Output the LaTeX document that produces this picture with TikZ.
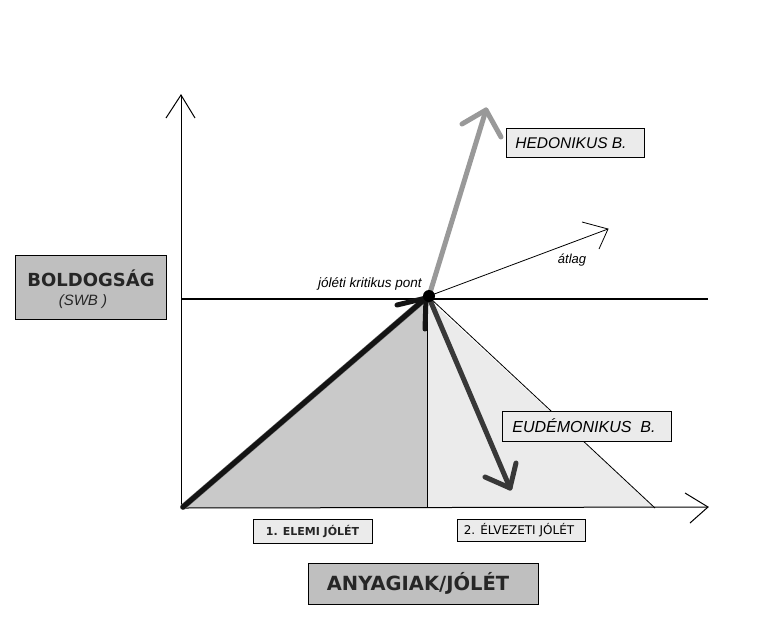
\documentclass[tikz,border=0pt]{standalone}
\usepackage{fontspec}
\setmainfont{DejaVu Sans}
\newfontfamily\ital{Liberation Sans}
\begin{document}
\begin{tikzpicture}[x=1pt,y=-1pt,
  thin axis/.style={line width=1pt,black},
  thickarr/.style={line width=5pt,line cap=round,line join=round},
  lbox/.style={draw=black,line width=1pt,fill=black!8,inner sep=0pt,anchor=north west},
  gbox/.style={draw=black,line width=1pt,fill=black!25,inner sep=0pt,anchor=north west}]
\useasboundingbox (0,0) rectangle (759,633);
% regions
\fill[black!21] (181,508) -- (427,298) -- (427,508) -- cycle;
\fill[black!8] (427,298) -- (427,508) -- (655,508) -- cycle;
\draw[line width=0.8pt] (430,298) -- (655,508);
\draw[line width=0.8pt] (427,298) -- (427,508);
% axes
\coordinate (O) at (181,508);
\coordinate (ytip) at (181,95);
\coordinate (xtip) at (708,507);
\draw[thin axis] (O) -- (ytip);
\draw[thin axis] (166,118) -- (ytip) -- (195,118);
\draw[thin axis] (O) -- (xtip);
\draw[thin axis] (685,493) -- (xtip) -- (690,523);
\draw[line width=1.6pt] (181,299) -- (708,299);
% critical point
\coordinate (P) at (429,296);
% average arrow
\coordinate (atip) at (608,229);
\draw[line width=0.8pt] (P) -- (atip);
\draw[line width=0.8pt] (582,222) -- (atip) -- (599,249);
% hedonic arrow
\coordinate (htip) at (486,110);
\draw[thickarr,black!40] (P) -- (htip);
\draw[thickarr,black!40] (462,124) -- (htip) -- (501,137);
% eudaimonic arrow
\coordinate (etip) at (510,488);
\draw[thickarr,black!78] (430,300) -- (etip);
\draw[thickarr,black!78] (485,477) -- (etip) -- (516,463);
% base arrow
\coordinate (btip) at (426,298);
\draw[line width=6pt,line cap=round,black!55] (183,507) -- (btip);
\draw[thickarr,black!92] (183,507) -- (btip);
\draw[thickarr,black!92] (397,305) -- (btip) -- (425,329);
\fill[black] (P) circle (6);
% labels
\node[gbox,minimum width=151pt,minimum height=64pt] (boldbox) at (15,255) {};
\node[font=\bfseries\fontsize{18}{20}\selectfont,text=black!85] (bold) at (91,278) {BOLDOGSÁG};
\node[font=\ital\itshape\fontsize{15}{17}\selectfont,text=black!85] (swb) at (83,302) {(SWB )};
\node[lbox,minimum width=138pt,minimum height=29pt] (hedbox) at (506,128) {};
\node[font=\ital\itshape\fontsize{15.5}{17}\selectfont] (hed) at (571,143) {HEDONIKUS B.};
\node[lbox,minimum width=169pt,minimum height=30pt] (eudbox) at (502,411) {};
\node[font=\ital\itshape\fontsize{16}{18}\selectfont] (eud) at (584,426) {EUDÉMONIKUS\ \ B.};
\node[lbox,minimum width=119pt,minimum height=24pt] (elbox) at (253,519) {};
\node[font=\bfseries\fontsize{11}{13}\selectfont,text=black!85] (el) at (312.5,531.5) {1. ELEMI JÓLÉT};
\node[lbox,minimum width=128pt,minimum height=22pt] (elvbox) at (457,519) {};
\node[font=\fontsize{12}{14}\selectfont] (elv) at (519,530) {2. ÉLVEZETI JÓLÉT};
\node[gbox,minimum width=230pt,minimum height=41pt] (anybox) at (308,563) {};
\node[font=\bfseries\fontsize{19.5}{22}\selectfont,text=black!85] (any) at (418,583.5) {ANYAGIAK/JÓLÉT};
\node[font=\ital\itshape\fontsize{13.5}{15}\selectfont] (krit) at (370,284) {jóléti kritikus pont};
\node[font=\ital\itshape\fontsize{13}{15}\selectfont] (atl) at (572,260) {átlag};
\end{tikzpicture}
\end{document}
